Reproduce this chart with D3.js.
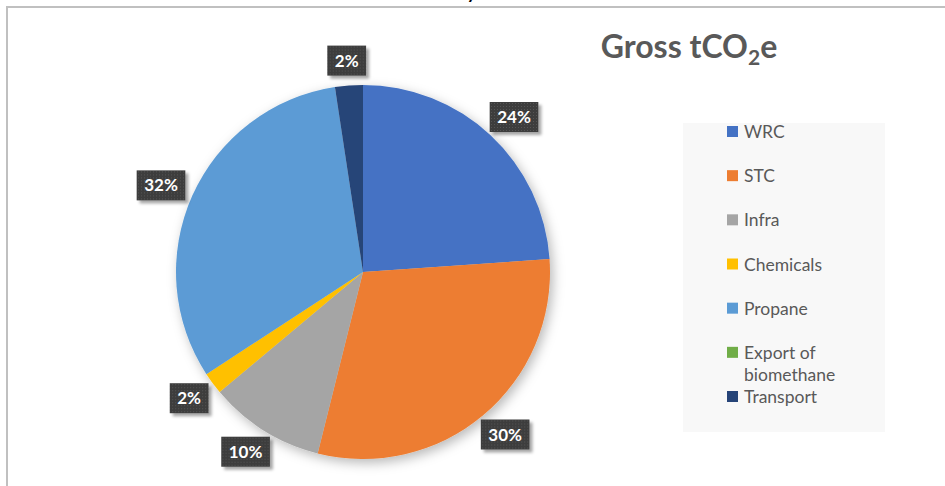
<!DOCTYPE html>
<html>
<head>
<meta charset="utf-8">
<script src="https://cdn.jsdelivr.net/npm/d3@7"></script>
<style>
	html, body { margin: 0; padding: 0; background: white; }
	#outer { width: 945px; height: 486px; }
</style>
</head>
<body>
<div id="outer"></div>
<script>
////////// Data //////////
const categories = ['WRC', 'STC', 'Infra', 'Chemicals', 'Propane', 'Export of biomethane', 'Transport'];
const shares = [23.9, 30.0, 10.0, 1.9, 31.8, 0, 2.4];
const sliceColors = ['#4472C4', '#ED7D31', '#A5A5A5', '#FFC000', '#5B9BD5', '#70AD47', '#264478'];
const legendLines = [['WRC'], ['STC'], ['Infra'], ['Chemicals'], ['Propane'], ['Export of', 'biomethane'], ['Transport']];

function drawChart () {
	const widget = {};

	////////// Hard Coded Defs //////////
	const data = {
		width: 945,
		height: 486,
		center: { x: 363, y: 272 },
		radius: 187,
		labelGap: 10,
		labelPad: 15,
		labelFont: 'bold 17px Lato, Carlito, Calibri, sans-serif',
		legendFont: '17.5px Lato, Carlito, Calibri, sans-serif',
		textColor: '#595959',
		frameColor: '#c0c0c0'
	};
	const getTextWidth = (text, font) => {
		const canvas = document.createElement('canvas');
		const context = canvas.getContext('2d');
		context.font = font;
		return context.measureText(text).width;
	};
	const labelText = d => Math.round(d.data) + '%';
	const boxWidth = d => getTextWidth(labelText(d), data.labelFont) + data.labelPad;

	widget.svg = d3.select('#outer').append('svg')
		.attr('width', data.width)
		.attr('height', data.height);

	// ********************************************* DEFS ******************************************************* //
	const defs = widget.svg.append('defs');

	const pieShadow = defs.append('filter').attr('id', 'pieShadow')
		.attr('x', '-20%').attr('y', '-20%').attr('width', '140%').attr('height', '140%');
	pieShadow.append('feDropShadow')
		.attr('dx', 3).attr('dy', 4).attr('stdDeviation', 6)
		.attr('flood-color', '#000').attr('flood-opacity', 0.28);

	const boxShadow = defs.append('filter').attr('id', 'boxShadow')
		.attr('x', '-30%').attr('y', '-30%').attr('width', '170%').attr('height', '170%');
	boxShadow.append('feDropShadow')
		.attr('dx', 3).attr('dy', 3).attr('stdDeviation', 1.5)
		.attr('flood-color', '#000').attr('flood-opacity', 0.35);

	const dots = defs.append('pattern').attr('id', 'dots')
		.attr('patternUnits', 'userSpaceOnUse').attr('width', 3).attr('height', 3);
	dots.append('rect').attr('width', 3).attr('height', 3).attr('fill', '#3d3d3d');
	dots.append('rect').attr('x', 1).attr('y', 1).attr('width', 1).attr('height', 1).attr('fill', '#555');

	// ********************************************* FRAME ******************************************************* //
	widget.svg.append('path')
		.attr('d', `M7,${data.height} V7 H${data.width}`)
		.attr('fill', 'none')
		.attr('stroke', data.frameColor)
		.attr('stroke-width', 2);

	// descender of a heading that sits above the frame (cut off in the original too)
	widget.svg.append('text')
		.attr('x', 468).attr('y', -1)
		.style('font', 'italic bold 18px Lato, sans-serif')
		.attr('fill', '#000')
		.text('y');

	// ********************************************* TITLE ******************************************************* //
	const title = widget.svg.append('text')
		.attr('x', 689).attr('y', 58)
		.attr('text-anchor', 'middle')
		.attr('fill', data.textColor)
		.style('font', 'bold 32px Lato, Carlito, Calibri, sans-serif');
	title.append('tspan').text('Gross tCO');
	title.append('tspan').attr('dy', 7).style('font-size', '21px').text('2');
	title.append('tspan').attr('dy', -7).text('e');

	// ********************************************* PIE ******************************************************* //
	const pie = d3.pie().sort(null).value(d => d)(shares);
	const arc = d3.arc().innerRadius(0).outerRadius(data.radius);

	const pieGroup = widget.svg.append('g')
		.attr('transform', `translate(${data.center.x}, ${data.center.y})`);

	pieGroup.append('g').attr('filter', 'url(#pieShadow)')
		.selectAll('path')
		.data(pie)
		.join('path')
		.attr('d', arc)
		.attr('fill', (d, i) => sliceColors[i]);

	// ********************************************* LABELS ******************************************************* //
	const labelData = pie.filter(d => Math.round(d.data) > 0);
	const boxH = 30;
	const labels = pieGroup.selectAll('.label')
		.data(labelData)
		.join('g')
		.attr('class', 'label')
		.attr('transform', d => {
			const w = boxWidth(d);
			const a = (d.startAngle + d.endAngle) / 2;
			const r = data.radius + data.labelGap;
			const x = Math.sin(a) * (r + w / 2);
			const y = -Math.cos(a) * (r + boxH / 2);
			return `translate(${x}, ${y})`;
		});

	labels.append('rect')
		.attr('x', d => -boxWidth(d) / 2)
		.attr('y', -boxH / 2)
		.attr('width', boxWidth)
		.attr('height', boxH)
		.attr('fill', 'url(#dots)')
		.attr('filter', 'url(#boxShadow)');

	labels.append('text')
		.attr('text-anchor', 'middle')
		.attr('dy', '0.36em')
		.attr('fill', '#fff')
		.style('font', data.labelFont)
		.text(labelText);

	// ********************************************* LEGEND ******************************************************* //
	widget.svg.append('rect')
		.attr('x', 683).attr('y', 123)
		.attr('width', 202).attr('height', 309)
		.attr('fill', '#f8f8f8');

	const legendY = d3.scalePoint().domain(categories).range([132, 397]);
	const legendItems = widget.svg.selectAll('.legendItem')
		.data(categories)
		.join('g')
		.attr('class', 'legendItem')
		.attr('transform', d => `translate(727, ${legendY(d)})`);

	legendItems.append('rect')
		.attr('y', -6)
		.attr('width', 11)
		.attr('height', 11)
		.attr('fill', (d, i) => sliceColors[i]);

	legendItems.append('text')
		.attr('fill', data.textColor)
		.style('font', data.legendFont)
		.selectAll('tspan')
		.data((d, i) => legendLines[i])
		.join('tspan')
		.attr('x', 17)
		.attr('dy', (d, j) => j === 0 ? '0.35em' : 22)
		.text(d => d);
}

drawChart();
</script>
</body>
</html>
